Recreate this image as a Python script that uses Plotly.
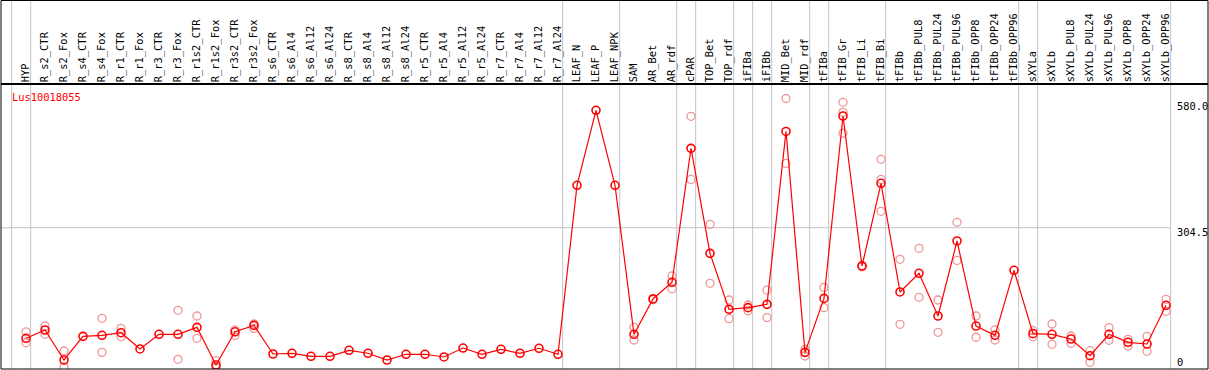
import plotly.graph_objects as go

categories = ["HYP", "R_s2_CTR", "R_s2_Fox", "R_s4_CTR", "R_s4_Fox", "R_r1_CTR", "R_r1_Fox",
              "R_r3_CTR", "R_r3_Fox", "R_r1s2_CTR", "R_r1s2_Fox", "R_r3s2_CTR", "R_r3s2_Fox",
              "R_s6_CTR", "R_s6_Al4", "R_s6_Al12", "R_s6_Al24", "R_s8_CTR", "R_s8_Al4",
              "R_s8_Al12", "R_s8_Al24", "R_r5_CTR", "R_r5_Al4", "R_r5_Al12", "R_r5_Al24",
              "R_r7_CTR", "R_r7_Al4", "R_r7_Al12", "R_r7_Al24", "LEAF_N", "LEAF_P", "LEAF_NPK",
              "SAM", "AR_Bet", "AR_rdf", "cPAR", "TOP_Bet", "TOP_rdf", "iFIBa", "iFIBb",
              "MID_Bet", "MID_rdf", "tFIBa", "tFIB_Gr", "tFIB_Li", "tFIB_Bi", "tFIBb",
              "tFIBb_PUL8", "tFIBb_PUL24", "tFIBb_PUL96", "tFIBb_OPP8", "tFIBb_OPP24",
              "tFIBb_OPP96", "sXYLa", "sXYLb", "sXYLb_PUL8", "sXYLb_PUL24", "sXYLb_PUL96",
              "sXYLb_OPP8", "sXYLb_OPP24", "sXYLb_OPP96"]

mean_values = [62.7, 80.9, 15.3, 67, 69.3, 75, 39.4, 71.5, 71.5, 86.7, 4.4, 77, 91,
               28.4, 29.9, 23.4, 23.4, 36.5, 30, 15.3, 27.8, 27.8, 21.9, 41.5, 27.8,
               38.7, 30, 40.9, 27.8, 397.2, 561.2, 397.2,
               71.5, 148.7, 185.2, 478, 248.5, 126, 129.7, 137, 515, 32, 150, 548.7,
               220.8, 401.6, 164, 204.8, 111.5, 275.5, 89.6, 69.3, 211.4,
               72.9, 71.5, 61.2, 24.7, 71.5, 54, 50.3, 134.9]

rep_a = [77, 89.6, 35, None, 106.4, 84.5, None, None, 124, 111.5, 13.8, 81, 94,
         None, None, None, None, None, None, None, None, None, None, None, None,
         None, None, None, None, None, None, None,
         86.8, 150, 199, 548, 312, 146.5, 135.5, 168, 587, 38.7, 174, 578.7,
         222, 454, 235.5, 259.5, 146.5, 316.3, 111.5, 81, None,
         79.4, 94, 67.8, 35.6, 86, 60.6, 67, 148]

rep_b = [53, 71.5, 0, None, 32, 66, None, None, 16.8, 62.7, 0, 69, 84.5,
         None, None, None, None, None, None, None, None, None, None, None, None,
         None, None, None, None, None, None, None,
         59, 147, 171.2, 410, 183, 105.6, 123, 108, 445, 24, 129.7, 556.8,
         219, 410, 93.3, 152.4, 75.8, 233, 65, 59, None,
         66, 49.6, 51.8, 10.3, 58.4, 46, 34.3, 121.8]

rep_c = [None] * 43 + [511, None, 340.4] + [None] * 15

group_starts = ["HYP", "R_s2_CTR", "LEAF_N", "SAM", "cPAR", "TOP_Bet", "iFIBa", "iFIBb",
                "MID_Bet", "tFIBa", "tFIB_Gr", "tFIBb", "sXYLa", "sXYLb"]

y_tick_vals = [0, 304.5, 580.0]
y_tick_text = ["0", "304.5", "580.0"]
gene_name = "Lus10018055"

FONT = "DejaVu Sans Mono"
W, H = 1209, 370
M_T, M_B, M_L, M_R = 85, 1, 1, 1
plot_h = H - M_T - M_B
top_paper = 1 + (M_T - 0.5) / plot_h

x_idx = list(range(len(categories)))
fig = go.Figure()

rep_x, rep_y = [], []
for reps in (rep_a, rep_b, rep_c):
    for i, v in enumerate(reps):
        if v is not None:
            rep_x.append(i)
            rep_y.append(v)

fig.add_trace(go.Scatter(x=rep_x, y=rep_y, mode="markers",
                         marker=dict(symbol="circle-open", size=8, color="#ef9595",
                                     line=dict(width=1.3, color="#ef9595")),
                         showlegend=False, hoverinfo="skip"))
fig.add_trace(go.Scatter(x=x_idx, y=mean_values, mode="lines+markers",
                         line=dict(color="#ff0000", width=1.2),
                         marker=dict(symbol="circle-open", size=8, color="#ff0000",
                                     line=dict(width=1.6, color="#ff0000")),
                         showlegend=False))
fig.add_trace(go.Scatter(x=[], y=[], yaxis="y2", showlegend=False))
fig.add_trace(go.Scatter(x=[], y=[], yaxis="y3", showlegend=False))

x_lo, x_hi = -1.316, 62.21
y_lo, y_hi = -4.37, 616.5

shapes = []
gx = [categories.index(g) - 0.755 for g in group_starts] + [len(categories) - 0.755]
for x in gx:
    shapes.append(dict(type="line", xref="x", yref="paper", x0=x, x1=x, y0=0, y1=top_paper,
                       line=dict(color="#c4c4c4", width=1), layer="below"))
shapes.append(dict(type="line", xref="x", yref="y", x0=x_lo, x1=gx[-1],
                   y0=y_tick_vals[1], y1=y_tick_vals[1],
                   line=dict(color="#c4c4c4", width=1), layer="below"))
shapes.append(dict(type="rect", xref="paper", yref="paper", x0=0, x1=1, y0=0, y1=top_paper,
                   line=dict(color="black", width=1), layer="above"))

fig.update_layout(
    width=W, height=H,
    margin=dict(l=M_L, r=M_R, t=M_T, b=M_B, pad=0),
    paper_bgcolor="white", plot_bgcolor="white",
    showlegend=False,
    shapes=shapes,
    xaxis=dict(range=[x_lo, x_hi], side="top", tickmode="array", tickvals=x_idx,
               ticktext=categories, tickangle=-90, ticks="", showgrid=False,
               zeroline=False, showline=True, linecolor="black", linewidth=1.5,
               ticklabelstandoff=-1,
               tickfont=dict(family=FONT, size=10.4, color="black"), automargin=False),
    yaxis=dict(range=[y_lo, y_hi], showgrid=False, zeroline=False, showticklabels=False,
               ticks="", showline=False),
    yaxis2=dict(range=[y_lo, y_hi], overlaying="y", anchor="free", side="right",
                position=0.9735, tickmode="array", tickvals=y_tick_vals[1:],
                ticktext=y_tick_text[1:], ticks="", showgrid=False, zeroline=False,
                showline=False, ticklabelshift=5, automargin=False,
                tickfont=dict(family=FONT, size=10.4, color="black")),
    yaxis3=dict(range=[y_lo, y_hi], overlaying="y", anchor="free", side="right",
                position=0.9735, tickmode="array", tickvals=y_tick_vals[:1],
                ticktext=y_tick_text[:1], ticks="", showgrid=False, zeroline=False,
                showline=False, ticklabelshift=-5, automargin=False,
                tickfont=dict(family=FONT, size=10.4, color="black")),
    annotations=[dict(text=gene_name, xref="paper", yref="paper",
                      x=(10 - M_L) / (W - M_L - M_R), y=(H - M_B - 97) / plot_h,
                      xanchor="left", yanchor="middle", showarrow=False,
                      font=dict(family=FONT, size=10.4, color="#ff0000"))],
)

fig.write_html("out.html", config={"displayModeBar": False},
               post_script="document.body.style.margin='0';document.body.style.overflow='hidden';")
